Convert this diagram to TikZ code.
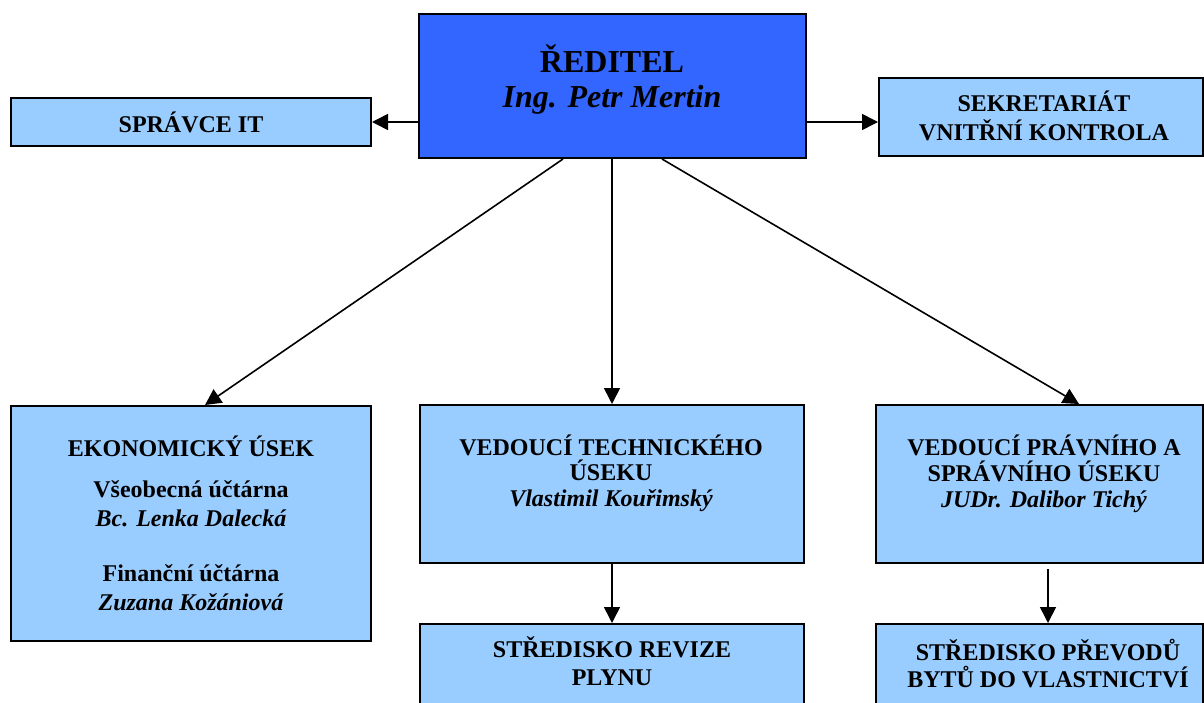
\documentclass[tikz,border=0pt]{standalone}
\usepackage{fontspec}
\setmainfont{Liberation Serif}
\usepackage{tikz}
\usetikzlibrary{arrows.meta}

\definecolor{chiefblue}{HTML}{3366FF}
\definecolor{unitblue}{HTML}{99CCFF}

\tikzset{
	unitbox/.style={draw=black, line width=2pt, fill=unitblue, inner sep=0pt},
	chiefbox/.style={unitbox, fill=chiefblue},
	boxtext/.style={align=center, anchor=base, inner sep=0pt, font=\bfseries\fontsize{24}{29}\selectfont},
	link/.style={line width=1.6pt, -{Triangle[length=16pt,width=16pt]}}
}

\begin{document}
\begin{tikzpicture}[x=1pt, y=-1pt]
	\clip (0,0) rectangle (1204,702);

	% Draw boxes
	%Top
	\node[chiefbox, minimum width=387pt, minimum height=144pt] (boss) at (612,86) {};
	\node[unitbox, minimum width=360pt, minimum height=48pt] (itadmin) at (191,122) {};
	\node[unitbox, minimum width=324pt, minimum height=78pt] (sekr) at (1041,117) {};
	%Middle
	\node[unitbox, minimum width=360pt, minimum height=235pt] (ekon) at (191,523.5) {};
	\node[unitbox, minimum width=384pt, minimum height=158pt] (tech) at (612,484) {};
	\node[unitbox, minimum width=327pt, minimum height=158pt] (legal) at (1039.5,484) {};
	%Bottom
	\node[unitbox, minimum width=384pt, minimum height=116pt] (revize) at (612,682) {};
	\node[unitbox, minimum width=327pt, minimum height=116pt] (prevody) at (1039.5,682) {};

	% Texts (placed at the baseline of the last line)
	\node[boxtext, font=\bfseries\fontsize{32}{35}\selectfont] (bosstext) at (612,107)
		{ŘEDITEL\\ \textit{Ing. Petr Mertin}};
	\node[boxtext] (itadmintext) at (191,132) {SPRÁVCE IT};
	\node[boxtext] (sekrtext) at (1044,140) {SEKRETARIÁT\\ VNITŘNÍ KONTROLA};
	\node[boxtext] (ekontext) at (191,610)
		{EKONOMICKÝ ÚSEK\\[12pt] Všeobecná účtárna\\ \textit{Bc. Lenka Dalecká}\\[26pt]
		Finanční účtárna\\ \textit{Zuzana Kožániová}};
	\node[boxtext, font=\bfseries\fontsize{24}{25.5}\selectfont] (techtext) at (611,506)
		{VEDOUCÍ TECHNICKÉHO\\ ÚSEKU\\ \textit{Vlastimil Kouřimský}};
	\node[boxtext, font=\bfseries\fontsize{24}{26}\selectfont] (legaltext) at (1044,507)
		{VEDOUCÍ PRÁVNÍHO A\\ SPRÁVNÍHO ÚSEKU\\ \textit{JUDr. Dalibor Tichý}};
	\node[boxtext, font=\bfseries\fontsize{24}{28}\selectfont] (revizetext) at (612,685)
		{STŘEDISKO REVIZE\\ PLYNU};
	\node[boxtext, font=\bfseries\fontsize{24}{27}\selectfont] (prevodytext) at (1048,687)
		{STŘEDISKO PŘEVODŮ\\ BYTŮ DO VLASTNICTVÍ};

	% Arrows
	\draw[link] (boss.west |- itadmin.east) -- (itadmin.east);
	\draw[link] (boss.east |- itadmin.east) -- (sekr.west |- itadmin.east);
	\draw[link] ([xshift=-49pt]boss.south) -- ([xshift=14pt]ekon.north);
	\draw[link] (boss.south) -- (tech.north);
	\draw[link] ([xshift=50pt]boss.south) -- ([xshift=39.5pt]legal.north);
	\draw[link] (tech.south) -- (revize.north);
	\draw[link] ([xshift=8.5pt,yshift=-5pt]legal.south) -- ([xshift=8.5pt]prevody.north);

\end{tikzpicture}
\end{document}
